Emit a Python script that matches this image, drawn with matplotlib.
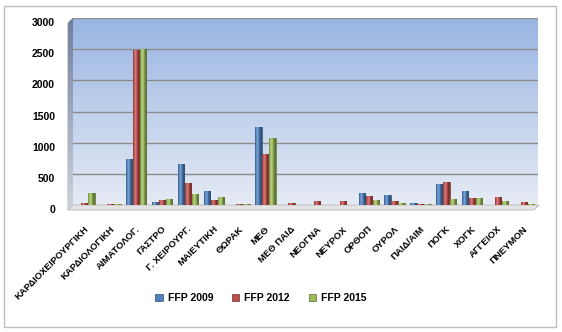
import numpy as np
import matplotlib.pyplot as plt
from matplotlib.colors import to_rgb
from matplotlib.patches import Polygon, Rectangle
from matplotlib.transforms import ScaledTranslation

plt.rcParams['font.family'] = ['Liberation Sans', 'DejaVu Sans']

# ---- data ----
categories = ["ΚΑΡΔΙΟΧΕΙΡΟΥΡΓΙΚΗ", "ΚΑΡΔΙΟΛΟΓΙΚΗ", "ΑΙΜΑΤΟΛΟΓ.", "ΓΑΣΤΡΟ",
              "Γ. ΧΕΙΡΟΥΡΓ.", "ΜΑΙΕΥΤΙΚΗ", "ΘΩΡΑΚ", "ΜΕΘ", "ΜΕΘ ΠΑΙΔ",
              "ΝΕΟΓΝΑ", "ΝΕΥΡΟΧ", "ΟΡΘΟΠ", "ΟΥΡΟΛ", "ΠΑΙΔ/ΑΙΜ", "ΠΟΓΚ",
              "ΧΟΓΚ", "ΑΓΓΕΙΟΧ", "ΠΝΕΥΜΟΝ"]
ffp_2009 = [0, 0, 740, 50, 660, 220, 0, 1250, 0, 0, 0, 190, 160, 30, 330, 230, 0, 0]
ffp_2012 = [30, 10, 2480, 80, 350, 80, 20, 820, 40, 60, 60, 140, 70, 15, 370, 110, 130, 50]
ffp_2015 = [200, 15, 2500, 100, 170, 130, 20, 1080, 0, 0, 0, 80, 40, 15, 100, 120, 60, 20]
series_names = ["FFP 2009", "FFP 2012", "FFP 2015"]
series_colors = ["#4F81BD", "#C0504D", "#9BBB59"]
y_ticks = [0, 500, 1000, 1500, 2000, 2500, 3000]

W, H = 562, 332
fig = plt.figure(figsize=(W / 100, H / 100), dpi=100)


def fx(px):
    return px / W


def fy(py):
    return 1 - py / H


def cyl_colors(color, n=24):
    base = np.array(to_rgb(color))
    t = np.linspace(0, 1, n)
    shade = 0.62 + 0.62 * np.exp(-((t - 0.35) / 0.28) ** 2)
    out = []
    for s in shade:
        if s > 1:
            out.append(base + (1 - base) * (s - 1))
        else:
            out.append(base * s)
    return np.clip(np.array(out), 0, 1)[None, :, :]


# background overlay for 3D walls / frame
bg = fig.add_axes([0, 0, 1, 1], zorder=0)
bg.set_xlim(0, W)
bg.set_ylim(H, 0)
bg.axis('off')
bg.add_patch(Rectangle((4, 6), 552, 321, fill=False, edgecolor='#BFBFBF', lw=1))

wall = Polygon([(68, 23), (73, 18), (73, 205), (68, 210)], closed=True,
               facecolor='none', edgecolor='#9AA3B5', lw=0.6)
bg.add_patch(wall)
wall_grad = np.linspace(0, 1, 50)[:, None]
wall_img = np.dstack([0.44 + 0.36 * wall_grad, 0.50 + 0.32 * wall_grad,
                      0.62 + 0.24 * wall_grad])
im = bg.imshow(wall_img, extent=[68, 73, 210, 18], aspect='auto', zorder=1)
im.set_clip_path(wall)
bg.add_patch(Polygon([(68, 210), (73, 205), (539, 205), (534, 210)], closed=True,
                     facecolor='#E4E4E4', edgecolor='#B8B8B8', lw=0.6))
bg.set_xlim(0, W)
bg.set_ylim(H, 0)

# main axes
ax = fig.add_axes([fx(73), fy(205), fx(538) - fx(73), fy(18) - fy(205)], zorder=1)
ax.patch.set_alpha(0)

n = len(categories)
x = np.arange(n)
ax.set_xlim(-0.5, n - 0.5)
ax.set_ylim(0, 3000)

grad = np.linspace(0, 1, 100)[:, None]
top = np.array([0.60, 0.71, 0.89])
bottom = np.array([0.90, 0.92, 0.96])
bg_img = top[None, None, :] * (1 - grad[:, :, None]) + bottom[None, None, :] * grad[:, :, None]
ax.imshow(bg_img, extent=[-0.5, n - 0.5, 0, 3000], aspect='auto', zorder=0)

ax.set_yticks(y_ticks)
ax.yaxis.grid(True, color='#8C8C8C', lw=1, zorder=1)
ax.set_axisbelow(True)
for s in ax.spines.values():
    s.set_visible(False)

width = 0.25
offsets = [-0.27, 0.0, 0.27]
for vals, name, col, off in zip([ffp_2009, ffp_2012, ffp_2015], series_names,
                                series_colors, offsets):
    bars = ax.bar(x + off - 0.05, vals, width=width, color=col, label=name,
                  edgecolor=np.array(to_rgb(col)) * 0.6, lw=0.5, zorder=3)
    for p in bars:
        if p.get_height() <= 0:
            continue
        x0, w, h = p.get_x(), p.get_width(), p.get_height()
        img = ax.imshow(cyl_colors(col), extent=[x0, x0 + w, 0, h],
                        aspect='auto', zorder=3.5)
        img.set_clip_path(p)

ax.set_xlim(-0.5, n - 0.5)
ax.set_ylim(0, 3000)

ax.tick_params(axis='y', length=0, pad=13, labelsize=7.5)
for lab in ax.get_yticklabels():
    lab.set_fontweight('bold')
    lab.set_transform(lab.get_transform() + ScaledTranslation(0, -4 / 100, fig.dpi_scale_trans))

ax.set_xticks(x)
ax.set_xticklabels(categories, rotation=45, ha='right', va='top',
                   rotation_mode='anchor', fontsize=6.8, fontweight='bold')
ax.tick_params(axis='x', length=0, pad=14)
for lab in ax.get_xticklabels():
    lab.set_transform(lab.get_transform() + ScaledTranslation(-2 / 100, 0, fig.dpi_scale_trans))

handles, labels = ax.get_legend_handles_labels()
fig.legend(handles, labels, loc='center', bbox_to_anchor=(fx(261), fy(298)),
           ncol=3, frameon=False, prop={'size': 7.5, 'weight': 'bold'},
           handlelength=0.7, handleheight=0.7, handletextpad=0.5, columnspacing=1.8)

fig.savefig('out.png', dpi=100)
